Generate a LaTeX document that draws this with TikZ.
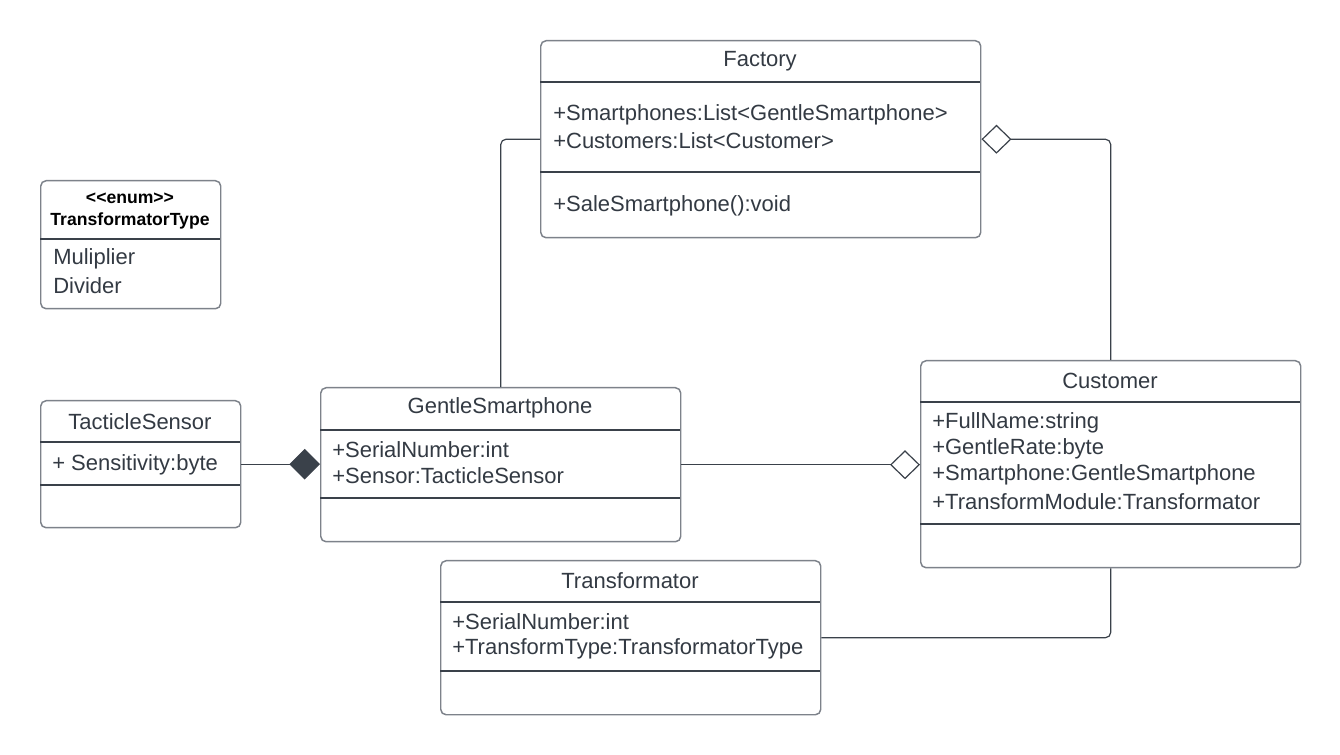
\documentclass[tikz,border=0pt]{standalone}
\usepackage{fontspec}
\setmainfont{Liberation Sans}
\usetikzlibrary{arrows.meta}
\definecolor{border}{HTML}{7D828A}
\definecolor{ink}{HTML}{333A43}
\definecolor{dark}{HTML}{3A414A}
\tikzset{
  cls/.style={draw=border, line width=1.1pt, rounded corners=4pt, fill=white, inner sep=0pt},
  sep/.style={draw=dark, line width=0.8pt},
  conn/.style={draw=dark, line width=0.9pt, rounded corners=4pt},
  title/.style={text=ink, inner sep=0pt, yshift=-1.5pt, font=\fontsize{16.5}{18}\selectfont},
  attr/.style={text=ink, inner sep=0pt, yshift=-1.5pt, anchor=west, font=\fontsize{16.5}{18}\selectfont},
  enumt/.style={text=black, inner sep=0pt, yshift=-1.2pt, font=\bfseries\fontsize{13.2}{15}\selectfont},
  odiamond/.style={-{Diamond[open, length=22.5pt, width=21.75pt, line width=0.9pt]}},
  fdiamond/.style={-{Diamond[fill=dark, length=23pt, width=23pt]}},
}
\begin{document}
\begin{tikzpicture}[x=0.75pt, y=-0.75pt]
\useasboundingbox (0,0) rectangle (1340,755);

% Factory
\node[cls, minimum width=330pt, minimum height=147.75pt, anchor=north west] (factory) at (540,40) {};
\draw[sep] (540,82) -- (980,82);
\draw[sep] (540,172) -- (980,172);
\node[title] (factoryT) at (760,59) {Factory};
\node[attr] (factoryA1) at (553,113) {+Smartphones:List<GentleSmartphone>};
\node[attr] (factoryA2) at (553,139) {+Customers:List<Customer>};
\node[attr] (factoryM1) at (553,204) {+SaleSmartphone():void};

% TransformatorType
\node[cls, minimum width=135pt, minimum height=96pt, anchor=north west] (ttype) at (40,180) {};
\draw[sep] (40,239) -- (220,239);
\node[enumt] (ttypeS) at (130,197) {<{}<enum>{}>};
\node[enumt] (ttypeT) at (130,219) {TransformatorType};
\node[attr] (ttypeA1) at (53,257) {Muliplier};
\node[attr] (ttypeA2) at (53,284) {Divider};

% TacticleSensor
\node[cls, minimum width=150pt, minimum height=95.25pt, anchor=north west] (ts) at (40,400) {};
\draw[sep] (40,442) -- (240,442);
\draw[sep] (40,485) -- (240,485);
\node[title] (tsT) at (140,420) {TacticleSensor};
\node[attr] (tsA1) at (52,463) {+ Sensitivity:byte};

% GentleSmartphone
\node[cls, minimum width=270pt, minimum height=115.5pt, anchor=north west] (gs) at (320,387) {};
\draw[sep] (320,430) -- (680,430);
\draw[sep] (320,498) -- (680,498);
\node[title] (gsT) at (500,406) {GentleSmartphone};
\node[attr] (gsA1) at (332,448) {+SerialNumber:int};
\node[attr] (gsA2) at (332,474) {+Sensor:TacticleSensor};

% Customer
\node[cls, minimum width=285pt, minimum height=155.25pt, anchor=north west] (cust) at (920,360) {};
\draw[sep] (920,402) -- (1300,402);
\draw[sep] (920,524) -- (1300,524);
\node[title] (custT) at (1110,379) {Customer};
\node[attr] (custA1) at (932,421) {+FullName:string};
\node[attr] (custA2) at (932,447) {+GentleRate:byte};
\node[attr] (custA3) at (932,473) {+Smartphone:GentleSmartphone};
\node[attr] (custA4) at (932,500) {+TransformModule:Transformator};

% Transformator
\node[cls, minimum width=285pt, minimum height=115.5pt, anchor=north west] (tr) at (440,560) {};
\draw[sep] (440,602) -- (820,602);
\draw[sep] (440,671) -- (820,671);
\node[title] (trT) at (630,579) {Transformator};
\node[attr] (trA1) at (452,620) {+SerialNumber:int};
\node[attr] (trA2) at (452,647) {+TransformType:TransformatorType};

% Connectors
\draw[conn] (gs.north) |- (factory.west);
\draw[conn, odiamond] (cust.north) |- (factory.east);
\draw[conn, odiamond] (gs.east) -- (cust.west |- gs.east);
\draw[conn, fdiamond] (ts.east) -- (gs.west |- ts.east);
\draw[conn] (cust.south) |- (tr.east);
\end{tikzpicture}
\end{document}
